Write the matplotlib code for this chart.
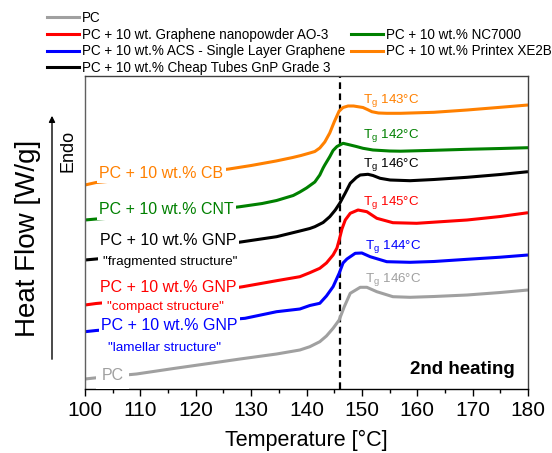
import matplotlib
matplotlib.use("Agg")
import matplotlib.pyplot as plt
from matplotlib.lines import Line2D
from matplotlib.patches import FancyArrowPatch
from matplotlib.ticker import MultipleLocator

plt.rcParams['font.family'] = ['Liberation Sans', 'DejaVu Sans']
plt.rcParams['mathtext.fontset'] = 'custom'
plt.rcParams['mathtext.rm'] = 'Liberation Sans'
plt.rcParams['mathtext.it'] = 'Liberation Sans:italic'

# ---- data (heat flow, arbitrary offset units) ----
t_pc = [100, 102, 109.3, 116, 122.6, 128, 134.6, 138.8, 140.6, 142.4, 143.6, 144.8, 145.9, 146.8,
        147.9, 149.7, 150.9, 152.7, 155.6, 158.7, 163, 169, 175, 180]
hf_pc = [0.10, 0.112, 0.15, 0.205, 0.257, 0.30, 0.35, 0.39, 0.423, 0.473, 0.53, 0.607, 0.69, 0.82,
         0.957, 1.017, 1.017, 0.973, 0.923, 0.917, 0.925, 0.94, 0.965, 0.99]

t_ao3 = [100, 102, 110, 120, 128.5, 134.6, 138.8, 140.6, 142.4, 143.6, 144.8, 145.5, 145.9, 146.4,
         147, 147.9, 149.3, 150.9, 152.7, 155.6, 159.9, 169, 175, 180]
hf_ao3 = [0.84, 0.855, 0.895, 0.95, 1.023, 1.083, 1.123, 1.163, 1.207, 1.26, 1.34, 1.41, 1.49, 1.60,
          1.69, 1.757, 1.79, 1.773, 1.707, 1.663, 1.657, 1.69, 1.725, 1.763]

t_acs = [100, 102, 110, 120, 128.9, 134.6, 138.8, 140.6, 142.4, 143.6, 144.8, 145.9, 146.6, 147.3,
         148.8, 150, 151.5, 154.5, 158.7, 163, 169, 175, 180]
hf_acs = [0.573, 0.585, 0.62, 0.665, 0.707, 0.773, 0.80, 0.835, 0.857, 0.93, 1.023, 1.157, 1.26, 1.30,
          1.357, 1.36, 1.323, 1.273, 1.267, 1.275, 1.297, 1.318, 1.34]

t_gnp3 = [100, 102, 110, 120, 128.5, 134.6, 138.8, 140.6, 141.5, 143, 144.2, 145.2, 146, 147,
          147.9, 149, 149.7, 151.1, 152, 153.3, 155.1, 158.7, 163, 169, 175, 180]
hf_gnp3 = [1.29, 1.30, 1.345, 1.405, 1.473, 1.523, 1.58, 1.605, 1.623, 1.665, 1.723, 1.79, 1.857, 1.96,
           2.057, 2.115, 2.14, 2.147, 2.135, 2.107, 2.09, 2.083, 2.095, 2.117, 2.145, 2.173]

t_nc7000 = [100, 102, 110, 120, 128, 132, 134.6, 137.6, 138.8, 140, 141.5, 142.4, 143, 143.3, 144.2,
            144.8, 145.5, 146.6, 147.9, 149, 150.2, 152, 155, 157, 163, 169, 175, 180]
hf_nc7000 = [1.69, 1.70, 1.725, 1.77, 1.823, 1.855, 1.885, 1.935, 1.97, 2.01, 2.07, 2.14, 2.21, 2.24, 2.323,
             2.385, 2.425, 2.457, 2.44, 2.425, 2.407, 2.39, 2.38, 2.378, 2.387, 2.397, 2.405, 2.413]

t_xe2b = [100, 102, 110, 120, 126, 130, 134.5, 137.5, 139, 140.6, 141.5, 142.4, 143.3, 144.2, 145,
          145.9, 146.6, 147.5, 148.5, 150.2, 151, 151.8, 153, 154.5, 157, 163, 169, 175, 180]
hf_xe2b = [2.04, 2.065, 2.105, 2.155, 2.20, 2.235, 2.28, 2.315, 2.335, 2.36, 2.375, 2.41, 2.47, 2.56, 2.67,
           2.78, 2.815, 2.83, 2.83, 2.815, 2.795, 2.773, 2.76, 2.757, 2.757, 2.767, 2.79, 2.817, 2.84]

legend_labels = ["PC", "PC + 10 wt. Graphene nanopowder AO-3", "PC + 10 wt.% ACS - Single Layer Graphene",
                 "PC + 10 wt.% Cheap Tubes GnP Grade 3", "PC + 10 wt.% NC7000", "PC + 10 wt.% Printex XE2B"]
curve_labels = ["PC", "PC + 10 wt.% GNP", "PC + 10 wt.% GNP", "PC + 10 wt.% GNP", "PC + 10 wt.% CNT", "PC + 10 wt.% CB"]
sub_labels = [None, '"compact structure"', '"lamellar structure"', '"fragmented structure"', None, None]
tg_values = [146, 145, 144, 146, 142, 143]
tg_line = 146

colors = ['#A0A0A0', '#FF0000', '#0000FF', '#000000', '#008000', '#FF8000']
temps = [t_pc, t_ao3, t_acs, t_gnp3, t_nc7000, t_xe2b]
flows = [hf_pc, hf_ao3, hf_acs, hf_gnp3, hf_nc7000, hf_xe2b]

# label positions (layout)
label_pos = [(103.0, 0.13), (102.7, 1.02), (102.9, 0.63), (102.7, 1.48), (102.6, 1.79), (102.6, 2.16)]
sub_pos = [None, (104.0, 0.82), (104.15, 0.41), (103.25, 1.27), None, None]
tg_pos = [(150.5, 1.09), (150.2, 1.86), (150.5, 1.42), (150.2, 2.24), (150.2, 2.53), (150.2, 2.88)]

W, H = 552, 453
fig = plt.figure(figsize=(W / 100, H / 100), dpi=100)
ax = fig.add_axes([85 / W, 1 - 389 / H, (528 - 85) / W, (389 - 76) / H])

for t, f, c in zip(temps, flows, colors):
    ax.plot(t, f, color=c, lw=2.2, solid_capstyle='butt', zorder=2)

ax.axvline(tg_line, color='black', lw=1.6, ls=(0, (3, 2)), zorder=1)

for i in range(6):
    x, y = label_pos[i]
    txt = curve_labels[i]
    pad = 4 if txt == "PC" else 1.5
    ax.text(x, y, txt, color=colors[i], fontsize=11.5, ha='left', va='center',
            bbox=dict(facecolor='white', edgecolor='none', pad=pad), zorder=3)
    if sub_labels[i]:
        sx, sy = sub_pos[i]
        ax.text(sx, sy, sub_labels[i], color=colors[i], fontsize=9.7, ha='left', va='center',
                bbox=dict(facecolor='white', edgecolor='none', pad=3.5), zorder=2.5)
    tx, ty = tg_pos[i]
    ax.text(tx, ty, r'T$_\mathregular{g}$ %d°C' % tg_values[i], color=colors[i], fontsize=9.6,
            ha='left', va='center', zorder=3)

ax.text(177.6, 0.19, "2nd heating", fontsize=13.5, fontweight='bold', ha='right', va='center')

ax.set_xlim(100, 180)
ax.set_ylim(0, 3.13)
ax.xaxis.set_major_locator(MultipleLocator(10))
ax.xaxis.set_minor_locator(MultipleLocator(5))
ax.set_yticks([])
ax.tick_params(axis='x', which='major', direction='out', length=5, width=1, labelsize=15, pad=4)
ax.tick_params(axis='x', which='minor', direction='out', length=3, width=1)
ax.set_xlabel("Temperature [°C]", fontsize=15.5, labelpad=7)
for s in ['top', 'right']:
    ax.spines[s].set_color('#404040')
ax.spines['left'].set_color('#606060')
ax.spines['bottom'].set_color('black')
for s in ax.spines.values():
    s.set_linewidth(1.0)

fig.text(28 / W, 1 - 238 / H, "Heat Flow [W/g]", rotation=90, fontsize=20, ha='center', va='center')
fig.text(68 / W, 1 - 151 / H, "Endo", rotation=90, fontsize=13, ha='center', va='center')
arr = FancyArrowPatch((52 / W, 1 - 362 / H), (52 / W, 1 - 113 / H), transform=fig.transFigure,
                      arrowstyle='-|>', mutation_scale=9, lw=1.0, color='black')
fig.add_artist(arr)

# legend
h = [Line2D([], [], color=c, lw=2.2) for c in colors]
blank = Line2D([], [], color='none', lw=0)
handles = [h[0], h[1], h[2], h[3], blank, h[4], h[5]]
labels = [legend_labels[0], legend_labels[1], legend_labels[2], legend_labels[3], '', legend_labels[4], legend_labels[5]]
fig.legend(handles, labels, loc='upper left', bbox_to_anchor=(47 / W, 1 - 11 / H), ncol=2, frameon=False,
           fontsize=9.75, handlelength=2.36, handletextpad=0.22, columnspacing=0.4, labelspacing=0.2,
           borderpad=0, borderaxespad=0)

fig.savefig("out.png", dpi=100)
